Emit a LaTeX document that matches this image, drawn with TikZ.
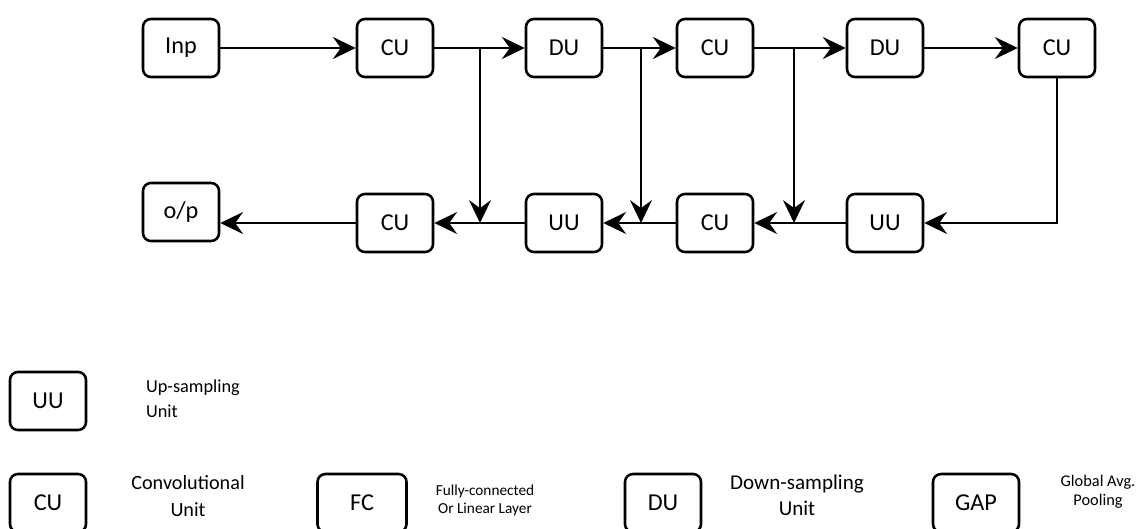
\documentclass[tikz,border=0pt]{standalone}
\usepackage{fontspec}
\setmainfont{Carlito}
\usepackage{tikz}
\usetikzlibrary{arrows.meta}

\tikzset{
  unit/.style={draw=black,line width=1.45pt,rounded corners=4.5pt,minimum width=1.52cm,minimum height=1.16cm,inner sep=0pt,font=\fontsize{13.8}{15}\selectfont},
  lbl/.style 2 args={align=center,inner sep=0pt,font=\fontsize{#1}{#2}\selectfont},
}

\begin{document}
\begin{tikzpicture}[x=0.02cm,y=-0.02cm,>={Stealth[length=13pt,width=12.5pt,inset=4.5pt]},line width=1.3pt]
\useasboundingbox (0,0) rectangle (1146,528);

% top row
\node[unit] (A) at (181,48) {Inp};
\node[unit] (B) at (395,48) {CU};
\node[unit] (C) at (564,48) {DU};
\node[unit] (D) at (715,48) {CU};
\node[unit] (E) at (885,48) {DU};
\node[unit] (F) at (1057,48) {CU};

% bottom row
\node[unit] (G) at (181,212) {o/p};
\node[unit] (H) at (395,223) {CU};
\node[unit] (I) at (564,223) {UU};
\node[unit] (J) at (715,223) {CU};
\node[unit] (K) at (885,223) {UU};

% skip points
\coordinate (s1) at (480,48);
\coordinate (s2) at (641,48);
\coordinate (s3) at (794,48);
\coordinate (t1) at (480,223);
\coordinate (t2) at (641,223);
\coordinate (t3) at (794,223);

\path (A) edge [->] (B);
\path (B) edge [->] (C);
\path (C) edge [->] (D);
\path (D) edge [->] (E);
\path (E) edge [->] (F);
\draw [->] (F.south) |- (K.east);
\path (K) edge [->] (J);
\path (J) edge [->] (I);
\path (I) edge [->] (H);
\draw [->] (H.west) -- (G.east |- H.west);
\path (s1) edge [->] (t1);
\path (s2) edge [->] (t2);
\path (s3) edge [->] (t3);

% legend
\node[unit] (UU) at (48,401) {UU};
\node[lbl={10.4}{14},align=left,anchor=west] (UUt) at (145,399) {Up-sampling\\Unit};
\node[unit] (CU) at (48,503) {CU};
\node[lbl={11.5}{15.3}] (CUt) at (188,496) {Convolutional\\Unit};
\node[unit,minimum width=1.78cm] (FC) at (362,503) {FC};
\node[lbl={8.7}{10.2}] (FCt) at (485,500) {Fully-connected\\Or Linear Layer};
\node[unit] (DU) at (663,503) {DU};
\node[lbl={12}{14.7}] (DUt) at (797,495) {Down-sampling\\Unit};
\node[unit,minimum width=1.72cm] (GAP) at (976,503) {GAP};
\node[lbl={9.3}{10.8}] (GAPt) at (1098,492) {Global Avg.\\Pooling};
\end{tikzpicture}
\end{document}
